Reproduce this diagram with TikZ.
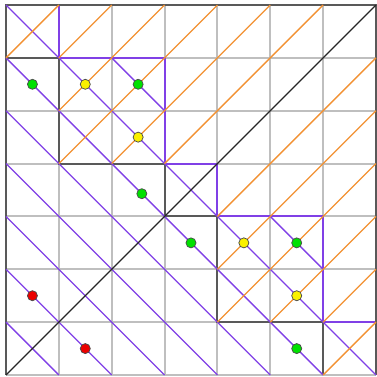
\documentclass[tikz,border=0pt]{standalone}
\usetikzlibrary{arrows.meta,positioning}
\definecolor{edgepurple}{RGB}{128,64,230}
\definecolor{lineorange}{RGB}{242,145,50}
\definecolor{dotgreen}{RGB}{0,225,0}
\definecolor{dotyellow}{RGB}{250,240,0}
\definecolor{dotred}{RGB}{235,0,0}

\begin{document}
\begin{tikzpicture}[
    grid line/.style={gray!50, line width=1.1pt},
    low edge/.style={black!65, line width=1.1pt},
    high edge/.style={edgepurple, line width=1.1pt},
    up line/.style={lineorange, line width=0.7pt},
    down line/.style={edgepurple, line width=0.7pt},
    dot/.style={draw=black!70, line width=0.4pt}]
    \useasboundingbox (-0.1135,-0.019) rectangle (7.019,7.0946);
    % unit grid
    \foreach \i in {1,...,6} {
      \draw[grid line] (\i,0) -- (\i,7);
      \draw[grid line] (0,\i) -- (7,\i);
    }
    % squares along the anti-diagonal
    \foreach \x/\y/\s in {0/6/1, 1/4/2, 3/3/1, 4/1/2, 6/0/1} {
      \draw[low edge] (\x,\y+\s) -- (\x,\y) -- (\x+\s,\y);
      \draw[high edge] (\x,\y+\s) -- (\x+\s,\y+\s) -- (\x+\s,\y);
    }
    % outer frame
    \draw[grid line] (0,0) -- (7,0);
    \draw[low edge] (7,0) -- (7,7) -- (0,7) -- (0,0);
    % falling lines
    \foreach \k in {1,...,7}
      \draw[down line] (0,\k) -- (\k,0);
    \draw[down line] (2,6) -- (3,5);
    \draw[down line] (5,3) -- (6,2);
    % rising lines
    \foreach \a/\b/\c/\d in {0/6/1/7, 1/6/2/7, 1/5/3/7, 1/4/4/7, 2/4/5/7, 3/4/6/7,
                             4/3/7/6, 4/2/7/5, 4/1/7/4, 5/1/7/3, 6/1/7/2, 6/0/7/1}
      \draw[up line] (\a,\b) -- (\c,\d);
    \draw[black!85, line width=0.6pt] (0,0) -- (7,7);
    % marked points
    \foreach \x/\y in {0.5/5.5, 2.5/5.5, 2.57/3.43, 3.5/2.5, 5.5/2.5, 5.5/0.5}
      \filldraw[dot, fill=dotgreen] (\x,\y) circle (0.095);
    \foreach \x/\y in {1.5/5.5, 2.5/4.5, 4.5/2.5, 5.5/1.5}
      \filldraw[dot, fill=dotyellow] (\x,\y) circle (0.095);
    \foreach \x/\y in {0.5/1.5, 1.5/0.5}
      \filldraw[dot, fill=dotred] (\x,\y) circle (0.095);
\end{tikzpicture}
\end{document}
